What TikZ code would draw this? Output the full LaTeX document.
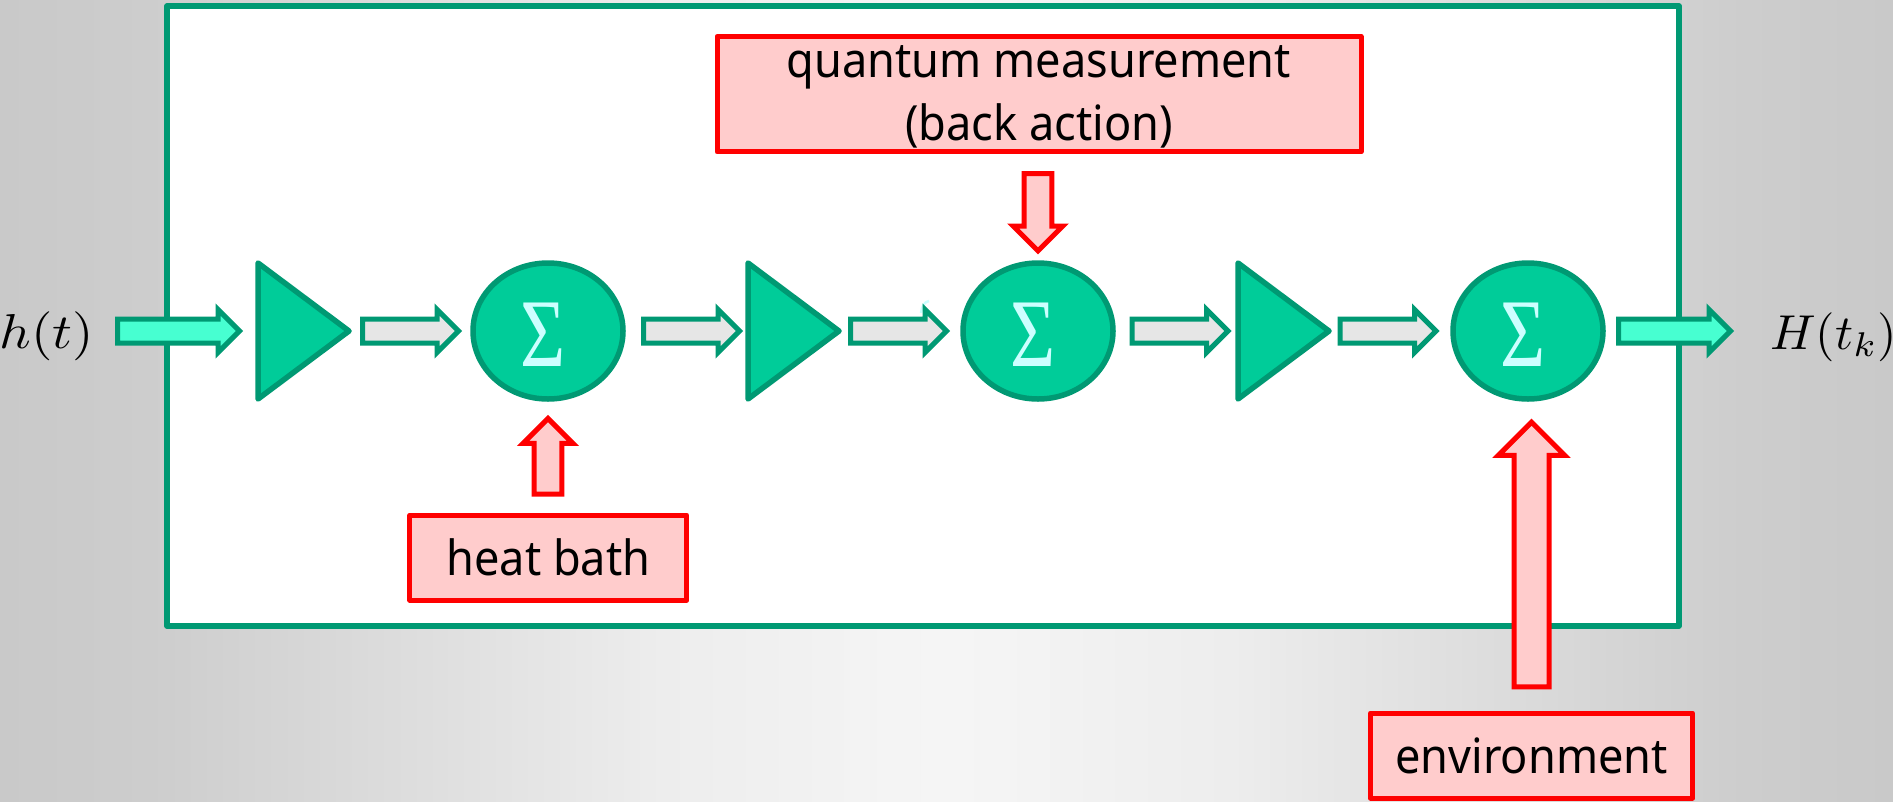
\documentclass[tikz,border=0pt]{standalone}
\usepackage{graphicx}
\usepackage{fontspec}
\setmainfont[FakeStretch=0.93]{Noto Sans}
\newfontfamily\sigfont{Liberation Serif}
\usetikzlibrary{shapes.geometric,shapes.arrows}
\definecolor{edgegreen}{HTML}{009973}
\definecolor{blockgreen}{HTML}{00CC99}
\definecolor{flowcyan}{HTML}{47FFD1}
\definecolor{flowgrey}{HTML}{E6E6E6}
\definecolor{palepink}{HTML}{FFCCCC}
\definecolor{signred}{HTML}{FF0000}
\definecolor{sigcyan}{HTML}{CCFFFF}
\definecolor{bga}{HTML}{C9C9C9}
\definecolor{bgb}{HTML}{CDCDCD}
\definecolor{bgc}{HTML}{DDDDDD}
\definecolor{bgd}{HTML}{EDEDED}
\definecolor{bge}{HTML}{F4F4F4}
\definecolor{bgf}{HTML}{F5F5F5}
\pgfdeclarehorizontalshading{pagebg}{100bp}{
  color(0bp)=(bga); color(25bp)=(bga); color(28.96bp)=(bgb); color(35.78bp)=(bgc);
  color(42.51bp)=(bgd); color(48.59bp)=(bge); color(50bp)=(bgf);
  color(51.41bp)=(bge); color(57.49bp)=(bgd); color(64.22bp)=(bgc);
  color(71.04bp)=(bgb); color(75bp)=(bga); color(100bp)=(bga)}
\tikzset{
  x=1pt,y=-1pt,
  frameline/.style={draw=edgegreen,line width=5.5pt,line join=round,fill=white},
  sumblock/.style={ellipse,draw=edgegreen,fill=blockgreen,line width=5.5pt,minimum width=150pt,minimum height=136pt,inner sep=0pt,outer sep=0pt},
  ampblock/.style={isosceles triangle,isosceles triangle stretches,shape border rotate=0,draw=edgegreen,fill=blockgreen,line width=5.5pt,line join=round,minimum width=136pt,minimum height=91pt,inner sep=0pt,outer sep=0pt,anchor=apex},
  sigmark/.style={text=sigcyan,inner sep=0pt,outer sep=0pt},
  blockarrow/.style={single arrow,single arrow tip angle=90,single arrow head indent=0pt,outer sep=0pt,anchor=tail,line width=5pt,miter limit=10},
  flowarrow/.style={blockarrow,draw=edgegreen,inner sep=9.5pt,minimum width=38pt,single arrow head extend=9.5pt},
  greenflow/.style={flowarrow,fill=flowgrey},
  cyanflow/.style={flowarrow,fill=flowcyan},
  redflow/.style={blockarrow,draw=signred,fill=palepink,inner sep=11.4pt,minimum width=44.6pt,single arrow head extend=10.9pt},
  bigredflow/.style={blockarrow,draw=signred,fill=palepink,inner sep=15pt,minimum width=61.2pt,single arrow head extend=15.6pt},
  redbox/.style={rectangle,draw=signred,fill=palepink,line width=5pt,line join=round,inner sep=0pt,outer sep=0pt,align=center,text height=36pt,text depth=0pt,font=\fontsize{48.5}{58}\selectfont},
}
\begin{document}
\begin{tikzpicture}
\useasboundingbox (0,0) rectangle (1893,801);
\shade[shading=pagebg] (0,0) rectangle (1893,801);
\node[frameline,rectangle,minimum width=1512pt,minimum height=620pt,inner sep=0pt,outer sep=0pt,anchor=north west] (frame) at (167,6) {};
\draw[sigcyan,line width=2.5pt] (929,301) .. controls (924,302) and (922,306) .. (921,313);
% blocks
\node[ampblock] (amp1) at (349,331) {};
\node[ampblock] (amp2) at (839,331) {};
\node[ampblock] (amp3) at (1329,331) {};
\node[sumblock] (sum1) at (548,331) {};
\node[sumblock] (sum2) at (1038,331) {};
\node[sumblock] (sum3) at (1528,331) {};
\foreach \n/\x in {s1/543.5,s2/1033,s3/1523}{
  \node[sigmark] (\n) at (\x,334.5) {\scalebox{.8}[1]{\sigfont\fontsize{97}{97}\selectfont Σ}};
}
% flow arrows
\node[cyanflow,minimum height=122pt] (in) at (117.5,331) {};
\node[greenflow,minimum height=96pt] (f1) at (362.5,331) {};
\node[greenflow,minimum height=96pt] (f2) at (643.5,331) {};
\node[greenflow,minimum height=96pt] (f3) at (850.5,331) {};
\node[greenflow,minimum height=96pt] (f4) at (1132,331) {};
\node[greenflow,minimum height=96pt] (f5) at (1340,331) {};
\node[cyanflow,minimum height=112pt] (out) at (1618.5,331) {};
% red boxes
\node[redbox,text height=0pt,minimum width=644pt,minimum height=115.5pt] (qm) at (1039,94.2) {};
\node[inner sep=0pt,align=center,font=\fontsize{48.5}{58}\selectfont] (qmtext) at (1039,97) {quantum measurement\\[5pt](back action)};
\node[redbox,minimum width=277pt,minimum height=85pt] (hb) at (548.3,557.7) {heat bath};
\node[redbox,minimum width=322pt,minimum height=85pt] (env) at (1531.5,755.5) {environment};
% red arrows
\node[redflow,shape border rotate=270,minimum height=77.3pt] (qma) at (1038,173.5) {};
\node[redflow,shape border rotate=90,minimum height=75.7pt] (hba) at (548,494.2) {};
\node[bigredflow,shape border rotate=90,minimum height=264.6pt] (enva) at (1531.5,686.8) {};
% signals
\node[inner sep=0pt] (hin) at (47,336) {\scalebox{5.5}[4.9]{$h(t)$}};
\node[inner sep=0pt,anchor=west] (hout) at (1770,337) {\scalebox{5}[4.9]{$H(t_k)$}};
\end{tikzpicture}
\end{document}
